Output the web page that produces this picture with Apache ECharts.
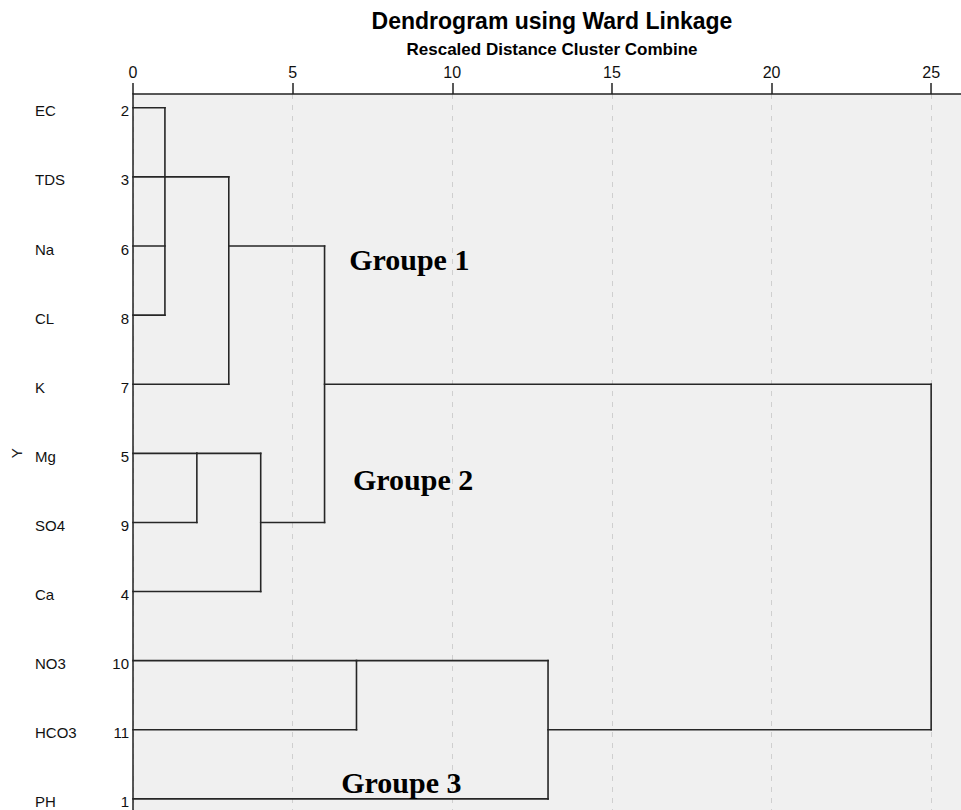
<!DOCTYPE html>
<html>
<head>
<meta charset="utf-8">
<title>Dendrogram using Ward Linkage</title>
<script src="https://cdn.jsdelivr.net/npm/echarts@6/dist/echarts.min.js"></script>
<style>
  html, body { margin: 0; padding: 0; background: #ffffff; }
  #chart { width: 961px; height: 810px; }
</style>
</head>
<body>
<div id="chart"></div>
<script>
// Variables in dendrogram order (top to bottom) and their case numbers
const variables = ['EC', 'TDS', 'Na', 'CL', 'K', 'Mg', 'SO4', 'Ca', 'NO3', 'HCO3', 'PH'];
const caseNumbers = [2, 3, 6, 8, 7, 5, 9, 4, 10, 11, 1];

// Agglomeration steps: leaves are 0..10, step k creates cluster 11 + k
const mergeMembers = [[0, 1, 2, 3], [11, 4], [5, 6], [13, 7], [12, 14], [8, 9], [16, 10], [15, 17]];
const mergeDistances = [1, 3, 2, 4, 6, 7, 13, 25];

// Rescaled distance ticks
const distanceTicks = [0, 5, 10, 15, 20, 25];

// Group annotations: text, distance, row
const groupNames = ['Groupe 1', 'Groupe 2', 'Groupe 3'];
const groupDistance = [6.77, 6.89, 6.52];
const groupRow = [2.19, 5.38, 9.77];

const SANS = '"Liberation Sans", Arial, sans-serif';
const SERIF = '"Liberation Serif", "Times New Roman", serif';

// Build the elbow segments of the tree: [x1, y1, x2, y2] in (distance, row) space
const clusterRow = variables.map((_, i) => i);
const clusterHeight = variables.map(() => 0);
const segments = [];
mergeMembers.forEach((members, k) => {
  const d = mergeDistances[k];
  const rows = members.map(m => clusterRow[m]);
  const lo = Math.min(...rows);
  const hi = Math.max(...rows);
  members.forEach(m => segments.push([clusterHeight[m], clusterRow[m], d, clusterRow[m]]));
  segments.push([d, lo, d, hi]);
  clusterRow.push(Math.floor((lo + hi) / 2));
  clusterHeight.push(d);
});

const notes = groupNames.map((t, i) => [groupDistance[i], groupRow[i], t]);

const chart = echarts.init(document.getElementById('chart'), null, { renderer: 'svg' });

chart.setOption({
  animation: false,
  backgroundColor: '#ffffff',
  title: [
    {
      text: 'Dendrogram using Ward Linkage',
      left: 552, top: 9, textAlign: 'center', padding: 0,
      textStyle: { fontFamily: SANS, fontSize: 23, fontWeight: 'bold', color: '#000' }
    },
    {
      text: 'Rescaled Distance Cluster Combine',
      left: 552, top: 41, textAlign: 'center', padding: 0,
      textStyle: { fontFamily: SANS, fontSize: 17, fontWeight: 'bold', color: '#000' }
    }
  ],
  grid: {
    left: 133, top: 94, width: 862, height: 732.5,
    outerBoundsMode: 'none', containLabel: false,
    show: true, backgroundColor: '#f0f0f0', borderWidth: 0
  },
  xAxis: {
    type: 'value', position: 'top',
    min: 0, max: 27, interval: 5,
    axisLine: { show: true, onZero: false, lineStyle: { color: '#222', width: 1.5 } },
    axisTick: { show: true, inside: false, length: 11, lineStyle: { color: '#222', width: 1.5 } },
    axisLabel: {
      showMaxLabel: false, margin: 14,
      fontFamily: SANS, fontSize: 16, color: '#111'
    },
    splitLine: { show: true, lineStyle: { color: '#cfcfcf', width: 1, type: [5, 6] } }
  },
  yAxis: {
    type: 'value', inverse: true,
    min: -0.2, max: 10.4,
    name: 'Y', nameLocation: 'middle', nameGap: 104, nameRotate: 90,
    nameTextStyle: { fontFamily: SANS, fontSize: 15, color: '#222', padding: [0, 0, 0, 14] },
    axisLine: { show: true, onZero: false, lineStyle: { color: '#222', width: 1.5 } },
    axisTick: { show: false },
    splitLine: { show: false },
    axisLabel: {
      customValues: variables.map((_, i) => i),
      margin: 4, align: 'right',
      formatter: v => '{n|' + variables[v] + '}{c|' + caseNumbers[v] + '}',
      rich: {
        n: { width: 72, align: 'left', fontFamily: SANS, fontSize: 15, color: '#111', padding: [6, 0, 0, 0] },
        c: { width: 22, align: 'right', fontFamily: SANS, fontSize: 15, color: '#111', padding: [6, 0, 0, 0] }
      }
    }
  },
  series: [
    {
      type: 'custom',
      name: 'tree',
      coordinateSystem: 'cartesian2d',
      silent: true,
      data: segments,
      encode: { x: [0, 2], y: [1, 3] },
      renderItem: (params, api) => {
        const p1 = api.coord([api.value(0), api.value(1)]);
        const p2 = api.coord([api.value(2), api.value(3)]);
        return {
          type: 'line',
          shape: { x1: p1[0], y1: p1[1], x2: p2[0], y2: p2[1] },
          style: { stroke: '#262626', lineWidth: 1.6, lineCap: 'square' }
        };
      }
    },
    {
      type: 'custom',
      name: 'groups',
      coordinateSystem: 'cartesian2d',
      silent: true,
      data: notes,
      encode: { x: 0, y: 1 },
      renderItem: (params, api) => {
        const p = api.coord([api.value(0), api.value(1)]);
        return {
          type: 'text',
          x: p[0], y: p[1],
          style: {
            text: notes[params.dataIndex][2],
            font: 'bold 30px ' + SERIF,
            fill: '#000',
            align: 'left',
            verticalAlign: 'middle'
          }
        };
      }
    }
  ]
});
</script>
</body>
</html>
